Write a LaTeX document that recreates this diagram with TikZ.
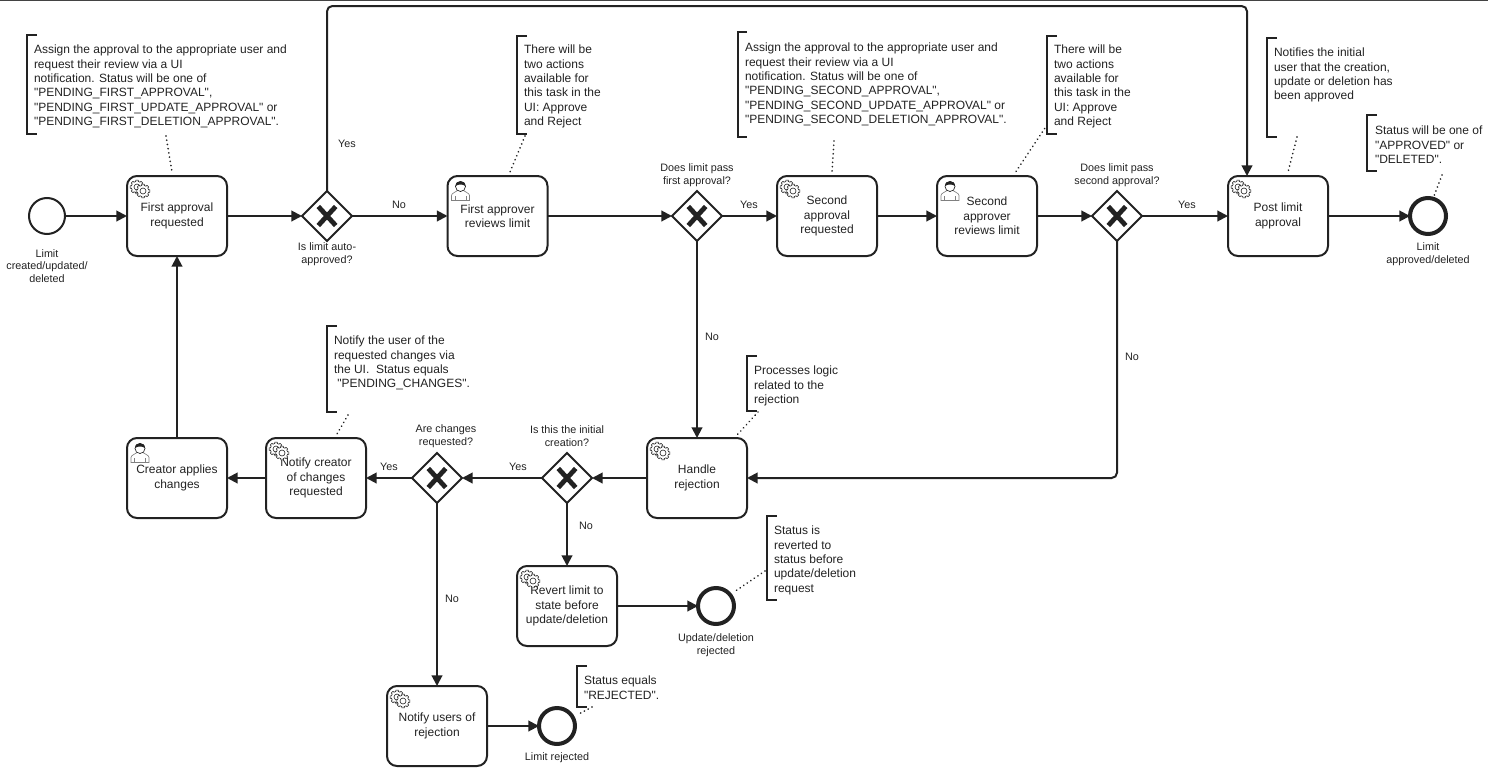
\documentclass[tikz,border=0pt]{standalone}
\usepackage{fontspec}
\setmainfont{Liberation Sans}[Ligatures=TeXOff]
\usetikzlibrary{arrows.meta,shapes.geometric}
\definecolor{ink}{HTML}{222222}
\tikzset{
  x=0.75pt,y=-0.75pt,
  every node/.style={text=ink},
  task/.style={draw=ink,line width=1.5pt,rounded corners=7.5pt,minimum width=75pt,minimum height=60pt,inner sep=0pt,outer sep=0pt,align=center,font=\fontsize{9}{10.9}\selectfont,execute at begin node={\rule{0pt}{8pt}}},
  gate/.style={diamond,draw=ink,line width=1.5pt,minimum width=37.5pt,minimum height=37.5pt,inner sep=0pt,outer sep=0pt,aspect=1,
    path picture={\draw[ink,line width=3.6pt] (path picture bounding box.center)+(-8.7,-9.5)--+(8.7,9.5);\draw[ink,line width=3.6pt] (path picture bounding box.center)+(-8.7,9.5)--+(8.7,-9.5);}},
  startev/.style={circle,draw=ink,line width=1.5pt,minimum size=27pt,inner sep=0pt,outer sep=0pt},
  endev/.style={circle,draw=ink,line width=3pt,minimum size=27pt,inner sep=0pt,outer sep=0pt},
  flow/.style={draw=ink,line width=1.5pt,-{Triangle[length=8pt,width=8pt]}},
  assoc/.style={draw=ink,line width=1.4pt,line cap=round,dash pattern=on 0.01pt off 3.2pt},
  note/.style={anchor=north west,inner sep=0pt,outer sep=0pt,align=left,font=\fontsize{9}{10.8}\selectfont},
  brace/.style={draw=ink,line width=1.5pt},
  captxt/.style={align=center,inner sep=0pt,font=\fontsize{8.1}{9.6}\selectfont},
  flowlabel/.style={inner sep=0pt,font=\fontsize{8.1}{9.6}\selectfont},
  gearicon/.pic={
    \foreach \cx/\cy in {10/11,16/15}{
      \draw[ink,line width=0.45pt,fill=white,shift={(\cx,\cy)}] plot[samples=145,domain=0:360] ({(5.6+1.3*(cos(8*\x)>0))*cos(\x)},{(5.6+1.3*(cos(8*\x)>0))*sin(\x)}) -- cycle;
      \draw[ink,line width=0.45pt,shift={(\cx,\cy)}] (0,0) circle (3);
    }
  },
  usericon/.pic={
    \draw[gray,line width=0.5pt,fill=white] (4,24.5) -- (4,19.5) .. controls (4,17) and (8,16.5) .. (10,14.5) -- (16,14.5) .. controls (18,16.5) and (22,17) .. (22,19.5) -- (22,24.5) -- cycle;
    \draw[gray,line width=0.4pt] (7.5,24.5) -- (7.5,20) (18.5,24.5) -- (18.5,20);
    \draw[ink,line width=0.5pt,fill=white] (13,10.5) circle (5);
    \fill[ink] (8,10) .. controls (8,3.5) and (18,3.5) .. (18,10) .. controls (15.5,8) and (10.5,8) .. (8,10) -- cycle;
  }
}
\begin{document}
\begin{tikzpicture}
\useasboundingbox (0,0) rectangle (1488,771);
\fill[ink!85!white] (0,0) rectangle (1488,1);
% events
\node[startev] (start) at (47,216) {};
\node[endev] (endok) at (1428,216) {};
\node[endev] (endupd) at (716,606) {};
\node[endev] (endrej) at (557,726) {};
% tasks
\node[task] (t1) at (177,216) {First approval\\requested};
\node[task] (t2) at (497.5,216) {First approver\\reviews limit};
\node[task] (t3) at (827,216) {Second\\approval\\requested};
\node[task] (t4) at (987,216) {Second\\approver\\reviews limit};
\node[task] (t5) at (1278,216) {Post limit\\approval};
\node[task] (t6) at (697,478) {Handle\\rejection};
\node[task] (t7) at (316,478) {Notify creator\\of changes\\requested};
\node[task] (t8) at (177,478) {Creator applies\\changes};
\node[task] (t9) at (567,606) {Revert limit to\\state before\\update/deletion};
\node[task] (t10) at (437,726) {Notify users of\\rejection};
% icons
\pic at (t1.north west) {gearicon};
\pic at (t3.north west) {gearicon};
\pic at (t5.north west) {gearicon};
\pic at (t6.north west) {gearicon};
\pic at (t7.north west) {gearicon};
\pic at (t9.north west) {gearicon};
\pic at (t10.north west) {gearicon};
\pic at (t2.north west) {usericon};
\pic at (t4.north west) {usericon};
\pic at (t8.north west) {usericon};
% gateways
\node[gate] (g1) at (327,216) {};
\node[gate] (g2) at (697,216) {};
\node[gate] (g3) at (1117,216) {};
\node[gate] (g4) at (567,478) {};
\node[gate] (g5) at (437,478) {};
% captions
\node[captxt] (c1) at (47,266) {Limit\\created/updated/\\deleted};
\node[captxt] (c2) at (1428,254) {Limit\\approved/deleted};
\node[captxt] (c3) at (716,645) {Update/deletion\\rejected};
\node[captxt] (c4) at (557,758) {Limit rejected};
\node[captxt] (c5) at (327,254) {Is limit auto-\\approved?};
\node[captxt] (c6) at (697,175) {Does limit pass\\first approval?};
\node[captxt] (c7) at (1117,175) {Does limit pass\\second approval?};
\node[captxt] (c8) at (567,436) {Is this the initial\\creation?};
\node[captxt] (c9) at (446,436) {Are changes\\requested?};
% flows
\coordinate (topa) at (327,6);
\coordinate (topb) at (1247,6);
\coordinate (topin) at (1247,176);
\draw[flow] (start) -- (t1);
\draw[flow] (t1) -- (g1);
\draw[flow] (g1) -- (t2);
\draw[flow] (t2) -- (g2);
\draw[flow] (g2) -- (t3);
\draw[flow] (t3) -- (t4);
\draw[flow] (t4) -- (g3);
\draw[flow] (g3) -- (t5);
\draw[flow] (t5) -- (endok);
\draw[flow,rounded corners=4pt] (g1.north) -- (topa) -- (topb) -- (topin);
\draw[flow] (g2) -- (t6);
\draw[flow,rounded corners=4pt] (g3.south) |- (t6.east);
\draw[flow] (t6) -- (g4);
\draw[flow] (g4) -- (g5);
\draw[flow] (g5) -- (t7);
\draw[flow] (t7) -- (t8);
\draw[flow] (t8) -- (t1);
\draw[flow] (g4) -- (t9);
\draw[flow] (t9) -- (endupd);
\draw[flow] (g5) -- (t10);
\draw[flow] (t10) -- (endrej);
% flow labels
\node[flowlabel] (l1) at (347,144) {Yes};
\node[flowlabel] (l2) at (399,205) {No};
\node[flowlabel] (l3) at (749,205) {Yes};
\node[flowlabel] (l4) at (712,337) {No};
\node[flowlabel] (l5) at (1187,205) {Yes};
\node[flowlabel] (l6) at (1132,357) {No};
\node[flowlabel] (l7) at (518,467) {Yes};
\node[flowlabel] (l8) at (389,467) {Yes};
\node[flowlabel] (l9) at (586,526) {No};
\node[flowlabel] (l10) at (452,599) {No};
% annotations
\node[note] (n1) at (34,45) {Assign the approval to the appropriate user and\\request their review via a UI\\notification. Status will be one of\\"PENDING\_FIRST\_APPROVAL",\\"PENDING\_FIRST\_UPDATE\_APPROVAL" or\\"PENDING\_FIRST\_DELETION\_APPROVAL".};
\draw[brace] (37,35) -- (27,35) -- (27,134) -- (37,134);
\coordinate (a1) at (166,136);
\draw[assoc] (a1) -- (172,172);
\node[note] (n2) at (524,45) {There will be\\two actions\\available for\\this task in the\\UI: Approve\\and Reject};
\draw[brace] (527,36) -- (517,36) -- (517,134) -- (527,134);
\coordinate (a2) at (525,136);
\draw[assoc] (a2) -- (510,172);
\node[note] (n3) at (745,43) {Assign the approval to the appropriate user and\\request their review via a UI\\notification. Status will be one of\\"PENDING\_SECOND\_APPROVAL",\\"PENDING\_SECOND\_UPDATE\_APPROVAL" or\\"PENDING\_SECOND\_DELETION\_APPROVAL".};
\draw[brace] (747,32) -- (737.5,32) -- (737.5,137) -- (747,137);
\coordinate (a3) at (834,141);
\draw[assoc] (a3) -- (832,172);
\node[note] (n4) at (1054,45) {There will be\\two actions\\available for\\this task in the\\UI: Approve\\and Reject};
\draw[brace] (1057,36) -- (1047,36) -- (1047,134) -- (1057,134);
\coordinate (a4) at (1047,125);
\draw[assoc] (a4) -- (1015,173);
\node[note] (n5) at (1274,48) {Notifies the initial\\user that the creation,\\update or deletion has\\been approved};
\draw[brace] (1277,38) -- (1267,38) -- (1267,137) -- (1277,137);
\coordinate (a5) at (1297,137);
\draw[assoc] (a5) -- (1288,172);
\node[note] (n6) at (1375,126) {Status will be one of\\"APPROVED" or\\"DELETED".};
\draw[brace] (1377,115) -- (1367,115) -- (1367,171) -- (1377,171);
\coordinate (a6) at (1442,175);
\draw[assoc] (a6) -- (1434,196);
\node[note] (n7) at (334,336) {Notify the user of the\\requested changes via\\the UI.~ Status equals\\~"PENDING\_CHANGES".};
\draw[brace] (337,326) -- (327,326) -- (327,412) -- (337,412);
\coordinate (a7) at (348,415);
\draw[assoc] (a7) -- (337,434);
\node[note] (n8) at (754,366) {Processes logic\\related to the\\rejection};
\draw[brace] (757,356) -- (747,356) -- (747,411) -- (757,411);
\coordinate (a8) at (758,412);
\draw[assoc] (a8) -- (737,435);
\node[note] (n9) at (774,526) {Status is\\reverted to\\status before\\update/deletion\\request};
\draw[brace] (777,516) -- (767,516) -- (767,600) -- (777,600);
\coordinate (a9) at (765,571);
\draw[assoc] (a9) -- (734,592);
\node[note] (n10) at (584,676) {Status equals\\"REJECTED".};
\draw[brace] (587,666) -- (577,666) -- (577,707) -- (587,707);
\coordinate (a10) at (592,707);
\draw[assoc] (a10) -- (577,715);
\end{tikzpicture}
\end{document}
